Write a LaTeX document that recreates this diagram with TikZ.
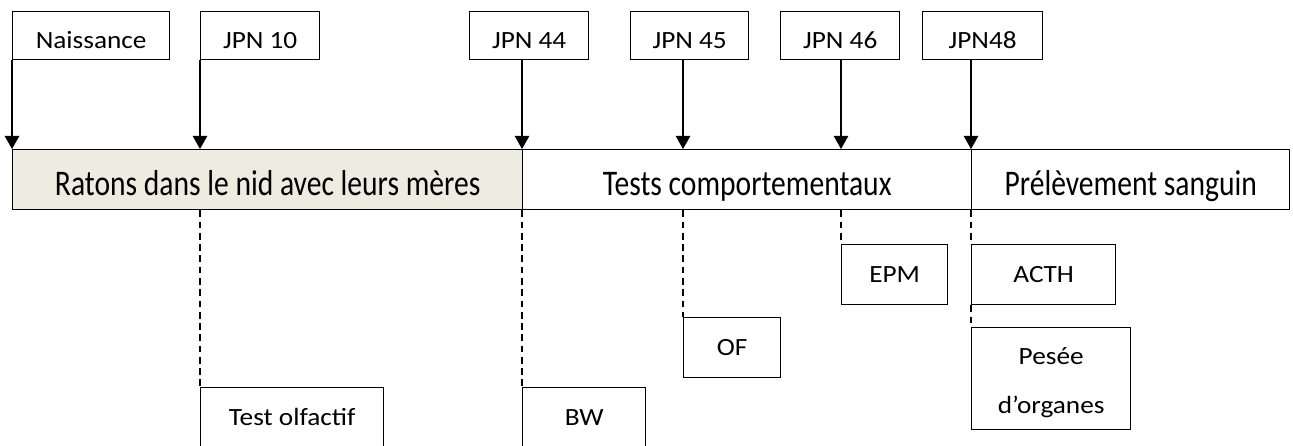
\documentclass[tikz,border=0pt]{standalone}
\usepackage{fontspec}
\setmainfont{Carlito}
\newfontfamily\boxfont[FakeStretch=1.1]{Carlito}
\newfontfamily\barfont[FakeStretch=0.82]{Carlito}
\usetikzlibrary{arrows.meta}

\definecolor{nest}{HTML}{EEECE1}

\begin{document}
\begin{tikzpicture}[x=0.0156cm, y=-0.0156cm, line width=0.6pt,
	>={Triangle[width=6.4pt, length=5.8pt]},
	daybox/.style={draw, inner sep=0pt, anchor=north west, minimum height=48*\u,
		text height=12.5pt, text depth=0.7pt, font=\boxfont\fontsize{11}{13}\selectfont},
	phase/.style={draw, inner sep=0pt, anchor=north west, minimum height=60*\u,
		text height=15pt, text depth=0.8pt, font=\barfont\fontsize{16}{19}\selectfont},
	testbox/.style={draw, inner sep=0pt, anchor=north west, minimum height=60*\u,
		text height=8pt, text depth=0.9pt, font=\boxfont\fontsize{11}{13}\selectfont},
	guide/.style={line width=0.5pt, dash pattern=on 3pt off 2pt}]
	
	% 1. Frame of the picture (one unit = one pixel of the reference)
	\def\u{0.0156cm}
	\clip (0,0) rectangle (1293,445);
	
	% 2. Days on the time line
	\coordinate (D0) at (12,149);
	\coordinate (D10) at (200,149);
	\coordinate (D44) at (522,149);
	\coordinate (D45) at (683,149);
	\coordinate (D46) at (841,149);
	\coordinate (D48) at (971,149);
	
	% 3. The three phases
	\node[phase, fill=nest, minimum width=510*\u] (nid) at (D0) {Ratons dans le nid avec leurs mères};
	\node[phase, minimum width=449*\u] (tests) at (D44) {Tests comportementaux};
	\node[phase, minimum width=318*\u] (sang) at (D48) {Prélèvement sanguin};
	
	% 4. Day labels on top
	\node[daybox, minimum width=157*\u] (J0) at (12,11) {Naissance};
	\node[daybox, minimum width=119*\u] (J10) at (200,11) {JPN 10};
	\node[daybox, minimum width=119*\u] (J44) at (469,11) {JPN 44};
	\node[daybox, minimum width=118*\u] (J45) at (630,11) {JPN 45};
	\node[daybox, minimum width=119*\u] (J46) at (780,11) {JPN 46};
	\node[daybox, minimum width=120*\u] (J48) at (922,11) {JPN48};
	
	% 5. Arrows down to the time line
	\draw[->] (J0.south -| D0) -- (D0);
	\draw[->] (J10.south -| D10) -- (D10);
	\draw[->] (J44.south -| D44) -- (D44);
	\draw[->] (J45.south -| D45) -- (D45);
	\draw[->] (J46.south -| D46) -- (D46);
	\draw[->] (J48.south -| D48) -- (D48);
	
	% 6. What is done on each day
	\node[testbox, minimum width=183*\u] (olf) at (200,387) {Test olfactif};
	\node[testbox, minimum width=123*\u] (bw) at (522,387) {BW};
	\node[testbox, minimum width=97*\u] (of) at (683,317) {OF};
	\node[testbox, minimum width=106*\u] (epm) at (841,244) {EPM};
	\node[testbox, minimum width=144*\u] (acth) at (971,244) {ACTH};
	\node[testbox, minimum width=159*\u, minimum height=102*\u, align=center,
	text height=32pt, text depth=1pt,
	font=\boxfont\fontsize{11}{21.7}\selectfont] (pesee) at (971,327) {Pesée\\d’organes};
	
	% 7. Dashed guides from the time line
	\draw[guide] (D10 |- nid.south) -- (olf.north west);
	\draw[guide] (D44 |- nid.south) -- (bw.north west);
	\draw[guide] (D45 |- tests.south) -- (of.north west);
	\draw[guide] (D46 |- tests.south) -- (epm.north west);
	\draw[guide] (D48 |- sang.south) -- (acth.north west);
	\draw[guide] (acth.south west) -- (pesee.north west);
	
\end{tikzpicture}
\end{document}
